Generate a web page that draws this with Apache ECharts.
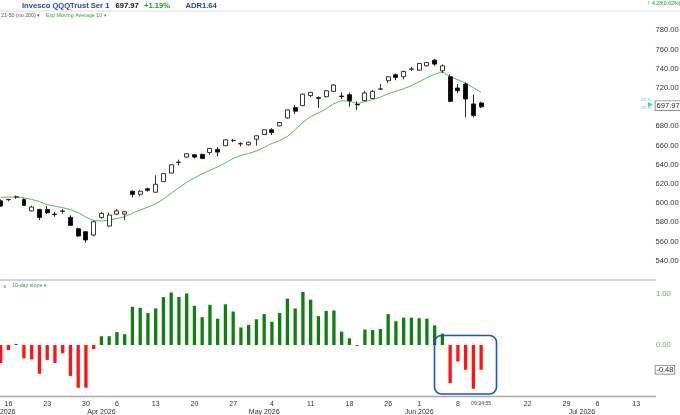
<!DOCTYPE html>
<html><head><meta charset="utf-8">
<script src="https://cdn.jsdelivr.net/npm/echarts@6/dist/echarts.min.js"></script>
<style>html,body{margin:0;padding:0;background:#fff}#c{width:680px;height:415px}</style>
</head><body><div id="c"></div>
<script>
const dates = [
'2026-03-13','2026-03-16','2026-03-17','2026-03-18','2026-03-19','2026-03-20','2026-03-23','2026-03-24','2026-03-25','2026-03-26','2026-03-27','2026-03-30','2026-03-31',
'2026-04-01','2026-04-02','2026-04-06','2026-04-07','2026-04-08','2026-04-09','2026-04-10','2026-04-13','2026-04-14','2026-04-15','2026-04-16','2026-04-17','2026-04-20','2026-04-21','2026-04-22','2026-04-23','2026-04-24','2026-04-27','2026-04-28','2026-04-29','2026-04-30',
'2026-05-01','2026-05-04','2026-05-05','2026-05-06','2026-05-07','2026-05-08','2026-05-11','2026-05-12','2026-05-13','2026-05-14','2026-05-15','2026-05-18','2026-05-19','2026-05-20','2026-05-21','2026-05-22','2026-05-26','2026-05-27','2026-05-28','2026-05-29',
'2026-06-01','2026-06-02','2026-06-03','2026-06-04','2026-06-05','2026-06-08','2026-06-09','2026-06-10','2026-06-11','2026-06-12','2026-06-15','2026-06-16','2026-06-17','2026-06-18','2026-06-22','2026-06-23','2026-06-24','2026-06-25','2026-06-26','2026-06-29','2026-06-30',
'2026-07-01','2026-07-02','2026-07-06','2026-07-07','2026-07-08','2026-07-09','2026-07-10','2026-07-13','2026-07-14','2026-07-15'
];
// [open, close, low, high]
const candles = [
[602.4,597.0,596.0,604.0],[603.6,603.9,602.0,604.5],[606.3,606.6,604.5,608.0],[603.8,597.6,597.0,605.0],[592.0,596.0,591.5,597.5],
[593.5,585.2,582.4,594.0],[593.5,590.0,588.6,596.9],[588.5,588.1,585.8,591.0],[591.5,591.9,589.3,594.1],[585.2,576.9,576.2,587.3],
[573.4,565.8,565.0,574.5],[570.3,561.7,558.9,571.0],[566.8,580.6,565.5,582.0],[585.2,589.3,583.7,591.0],[576.2,587.6,575.5,590.0],
[588.6,592.0,587.5,594.0],[588.6,591.0,582.4,592.0],[612.4,609.0,605.9,613.2],[609.3,612.4,607.0,613.5],[615.0,613.5,612.0,616.0],
[611.4,619.7,611.0,629.0],[622.5,630.8,622.0,631.5],[631.4,640.0,631.0,640.5],[642.4,642.8,639.4,645.3],[648.0,651.5,647.3,652.0],
[650.5,648.0,646.5,651.0],[650.8,646.6,646.0,651.5],[652.8,657.0,650.5,657.5],[656.0,653.2,648.7,658.3],[659.8,666.0,659.5,666.5],
[665.1,665.5,663.5,667.0],[661.7,662.1,659.0,663.5],[660.8,663.5,660.0,664.0],[666.6,670.2,660.0,670.5],[671.5,676.4,671.0,677.0],
[676.4,673.6,671.0,678.0],[680.5,684.0,680.0,684.5],[688.8,697.1,688.0,697.5],[699.5,695.8,693.0,702.0],[701.6,713.5,701.0,714.0],
[712.0,715.3,710.5,716.0],[709.8,709.2,699.2,711.2],[710.9,717.0,710.0,718.0],[716.4,723.0,715.5,724.0],[711.5,711.0,708.5,715.3],
[713.0,706.7,700.5,715.3],[702.8,702.4,697.1,706.0],[706.7,714.7,706.0,717.0],[709.1,716.4,708.5,718.0],[718.6,719.0,718.0,724.0],
[727.5,731.6,725.0,732.0],[733.7,730.9,728.0,735.0],[731.6,737.1,729.0,738.0],[739.4,739.8,737.5,742.0],[738.5,745.4,738.0,746.0],
[743.0,746.4,742.5,747.0],[748.9,744.8,743.0,750.0],[737.8,743.0,735.5,744.5],[731.6,706.0,705.0,734.0],[719.9,717.1,714.3,724.0],
[724.0,708.5,689.4,725.7],[703.3,691.2,689.4,713.0],[704.3,700.3,699.0,705.5]
];
const ema10 = [
606.0,606.3,606.5,605.5,603.9,601.6,598.5,596.9,595.3,593.3,590.2,585.5,581.9,581.4,582.4,584.0,586.0,589.6,592.8,595.9,
599.5,604.1,610.4,616.0,621.8,626.4,630.6,634.2,637.8,642.0,646.6,649.7,651.8,654.4,658.0,662.2,665.3,669.4,676.7,684.0,
690.2,693.8,698.4,703.6,706.7,706.2,703.6,705.7,707.8,710.4,714.0,716.6,719.2,722.3,726.4,730.6,734.2,736.8,731.6,728.5,
724.9,720.2,715.3
];
const slope = [
-0.35,-0.10,0.02,-0.26,-0.28,-0.56,-0.29,-0.35,-0.16,-0.60,-0.83,-0.83,-0.08,0.17,0.17,0.25,0.21,0.74,0.72,0.62,
0.71,0.93,1.02,0.93,1.00,0.76,0.54,0.78,0.51,0.79,0.65,0.34,0.39,0.50,0.60,0.45,0.62,0.90,0.71,1.03,
0.88,0.56,0.66,0.67,0.26,0.13,-0.02,0.30,0.29,0.31,0.60,0.46,0.53,0.53,0.52,0.51,0.38,0.22,-0.74,-0.32,
-0.48,-0.85,-0.48
];
const dayTicks = ['2026-03-16','2026-03-23','2026-03-30','2026-04-06','2026-04-13','2026-04-20','2026-04-27','2026-05-04','2026-05-11','2026-05-18','2026-05-26','2026-06-01','2026-06-08','2026-06-22','2026-06-29','2026-07-06','2026-07-13'];
const monthTicks = ['2026-03-13','2026-04-01','2026-05-01','2026-06-01','2026-07-01'];
const monthNames = ['Mar 2026','Apr 2026','May 2026','Jun 2026','Jul 2026'];
const lastTime = '09:34:55';
const lastPrice = '697.97';
const lastSlope = '-0.48';

const FONT = 'Liberation Sans, Arial, sans-serif';
const lastDate = dates[candles.length - 1];
const GREEN = '#0f7f0f', RED = '#ff1414';

const chart = echarts.init(document.getElementById('c'), null, {renderer:'canvas'});
const gridL = -3.17, gridW = 658.67;
function txt(x, y, text, size, color, weight, align) {
  return {type:'text', x:x, y:y, z:100, silent:true,
    style:{text:text, fontSize:size, fontWeight:weight||'normal', fontFamily:FONT, fill:color,
      align:align||'left', verticalAlign:'middle', textAlign:align||'left', textVerticalAlign:'middle'}};
}
const hiddenLine = {color:'rgba(0,0,0,0)', width:0};
chart.setOption({
  animation:false,
  backgroundColor:'#fff',
  textStyle:{fontFamily:FONT},
  grid:[
    {left:gridL, width:gridW, top:11.1, height:268.9, containLabel:false, outerBoundsMode:'none'},
    {left:gridL, width:gridW, top:280.6, height:115.9, containLabel:false, outerBoundsMode:'none'}
  ],
  xAxis:[
    {type:'category', gridIndex:0, data:dates, boundaryGap:true,
     axisLine:{show:true, onZero:false, lineStyle:{color:'#c4c4c4', width:1.5}},
     axisTick:{show:false}, axisLabel:{show:false}, splitLine:{show:false}},
    {type:'category', gridIndex:1, data:dates, boundaryGap:true, position:'bottom',
     axisLine:{show:true, onZero:false, lineStyle:{color:'#a8a8a8', width:1.3}},
     axisTick:{show:false}, splitLine:{show:false},
     axisLabel:{show:true, fontSize:7, color:'#333', margin:4.5, hideOverlap:false,
       interval:function(i, v){ return dayTicks.indexOf(v) >= 0 || v === lastDate; },
       formatter:function(v){ if (v === lastDate) return '{t|' + lastTime + '}'; return String(parseInt(v.slice(8), 10)); },
       rich:{t:{fontSize:5.2, color:'#444'}}}},
    {type:'category', gridIndex:1, data:dates, boundaryGap:true, position:'bottom',
     axisLine:{show:false, onZero:false}, axisTick:{show:false}, splitLine:{show:false},
     axisLabel:{show:true, fontSize:7, color:'#333', margin:12, hideOverlap:false,
       interval:function(i, v){ return monthTicks.indexOf(v) >= 0; },
       formatter:function(v){ const k = monthTicks.indexOf(v); return k >= 0 ? monthNames[k] : ''; }}}
  ],
  yAxis:[
    {type:'value', gridIndex:0, position:'right', min:520, max:800, interval:20, scale:false,
     axisLine:{show:false}, axisTick:{show:false}, splitLine:{show:false},
     axisLabel:{fontSize:7.6, color:'#333', margin:0,
       formatter:function(v){ return (v < 540 || v > 780) ? '' : v.toFixed(2); }}},
    {type:'value', gridIndex:1, position:'right', min:-1, max:1.25, interval:0.25,
     axisLine:{show:false}, axisTick:{show:false}, splitLine:{show:false},
     axisLabel:{fontSize:7.6, color:'#62ad62', margin:0.5,
       formatter:function(v){ return (v === 0 || v === 1) ? v.toFixed(2) : ''; }}}
  ],
  series:[
    {type:'candlestick', name:'QQQ', xAxisIndex:0, yAxisIndex:0, data:candles, barWidth:4.4,
     itemStyle:{color:'#ffffff', color0:'#000000', borderColor:'#222', borderColor0:'#111', borderWidth:0.9},
     markLine:{symbol:'none', silent:true, animation:false,
       lineStyle:hiddenLine,
       data:[{yAxis:701.5}],
       label:{show:true, position:'end', distance:0, formatter:lastPrice, fontSize:7.6, color:'#222', opacity:1,
         backgroundColor:'#fff', borderColor:'#777', borderWidth:0.8, padding:[1,1,0,1]}}},
    {type:'line', name:'Exp Moving Average 10', xAxisIndex:0, yAxisIndex:0, data:ema10,
     showSymbol:false, symbol:'none', lineStyle:{color:'#5cb85c', width:1}, z:1},
    {type:'bar', name:'10-day slope', xAxisIndex:1, yAxisIndex:1, data:slope, barWidth:3.3,
     itemStyle:{color:function(p){ return p.value >= 0 ? GREEN : RED; }},
     markLine:{symbol:'none', silent:true, animation:false,
       lineStyle:hiddenLine,
       data:[{yAxis:-0.48}],
       label:{show:true, position:'end', distance:0, formatter:lastSlope, fontSize:7.4, color:'#222', opacity:1,
         backgroundColor:'#fff', borderColor:'#777', borderWidth:0.8, padding:[1,1,0,1]}}}
  ],
  graphic:[
    {type:'line', z:90, silent:true, shape:{x1:0, y1:11, x2:680, y2:11}, style:{stroke:'#dcdcdc', lineWidth:1}},
    txt(22, 6, 'Invesco QQQTrust Ser 1', 7.6, '#1f3fc8', 'bold'),
    txt(115.5, 6, lastPrice, 7.6, '#111', 'bold'),
    txt(144, 6, '+1.19%', 7.6, '#1a9a2a', 'bold'),
    txt(185.5, 6, 'ADR1.64', 7.6, '#1f3fc8', 'bold'),
    txt(647, 3.6, '\u2191', 6.5, '#1a9a2a', 'bold'),
    txt(652, 3.6, '4.28(0.62%)', 5.2, '#1a9a2a'),
    txt(1, 16, '21-50 (no 200) \u25BE', 5.3, '#555'),
    txt(46, 16, 'Exp Moving Average 10 \u25BE', 5.3, '#3a9a3a'),
    txt(3.5, 286, 'x', 5.6, '#666'),
    txt(12, 286, '10-day slope \u25BE', 5.3, '#3a9a3a'),
    txt(641, 100.5, '697.31', 3.4, '#33ccee'),
    txt(641, 108, '697.31', 3.4, '#33ccee'),
    {type:'polygon', z:95, silent:true, shape:{points:[[648,102],[653,104.5],[648,107]]}, style:{fill:'#33ccee'}},
    {type:'rect', z:95, silent:true, shape:{x:434.5, y:335.5, width:62, height:58.5, r:7},
     style:{fill:'none', stroke:'#1e4fd4', lineWidth:1.6}}
  ]
});
</script></body></html>
